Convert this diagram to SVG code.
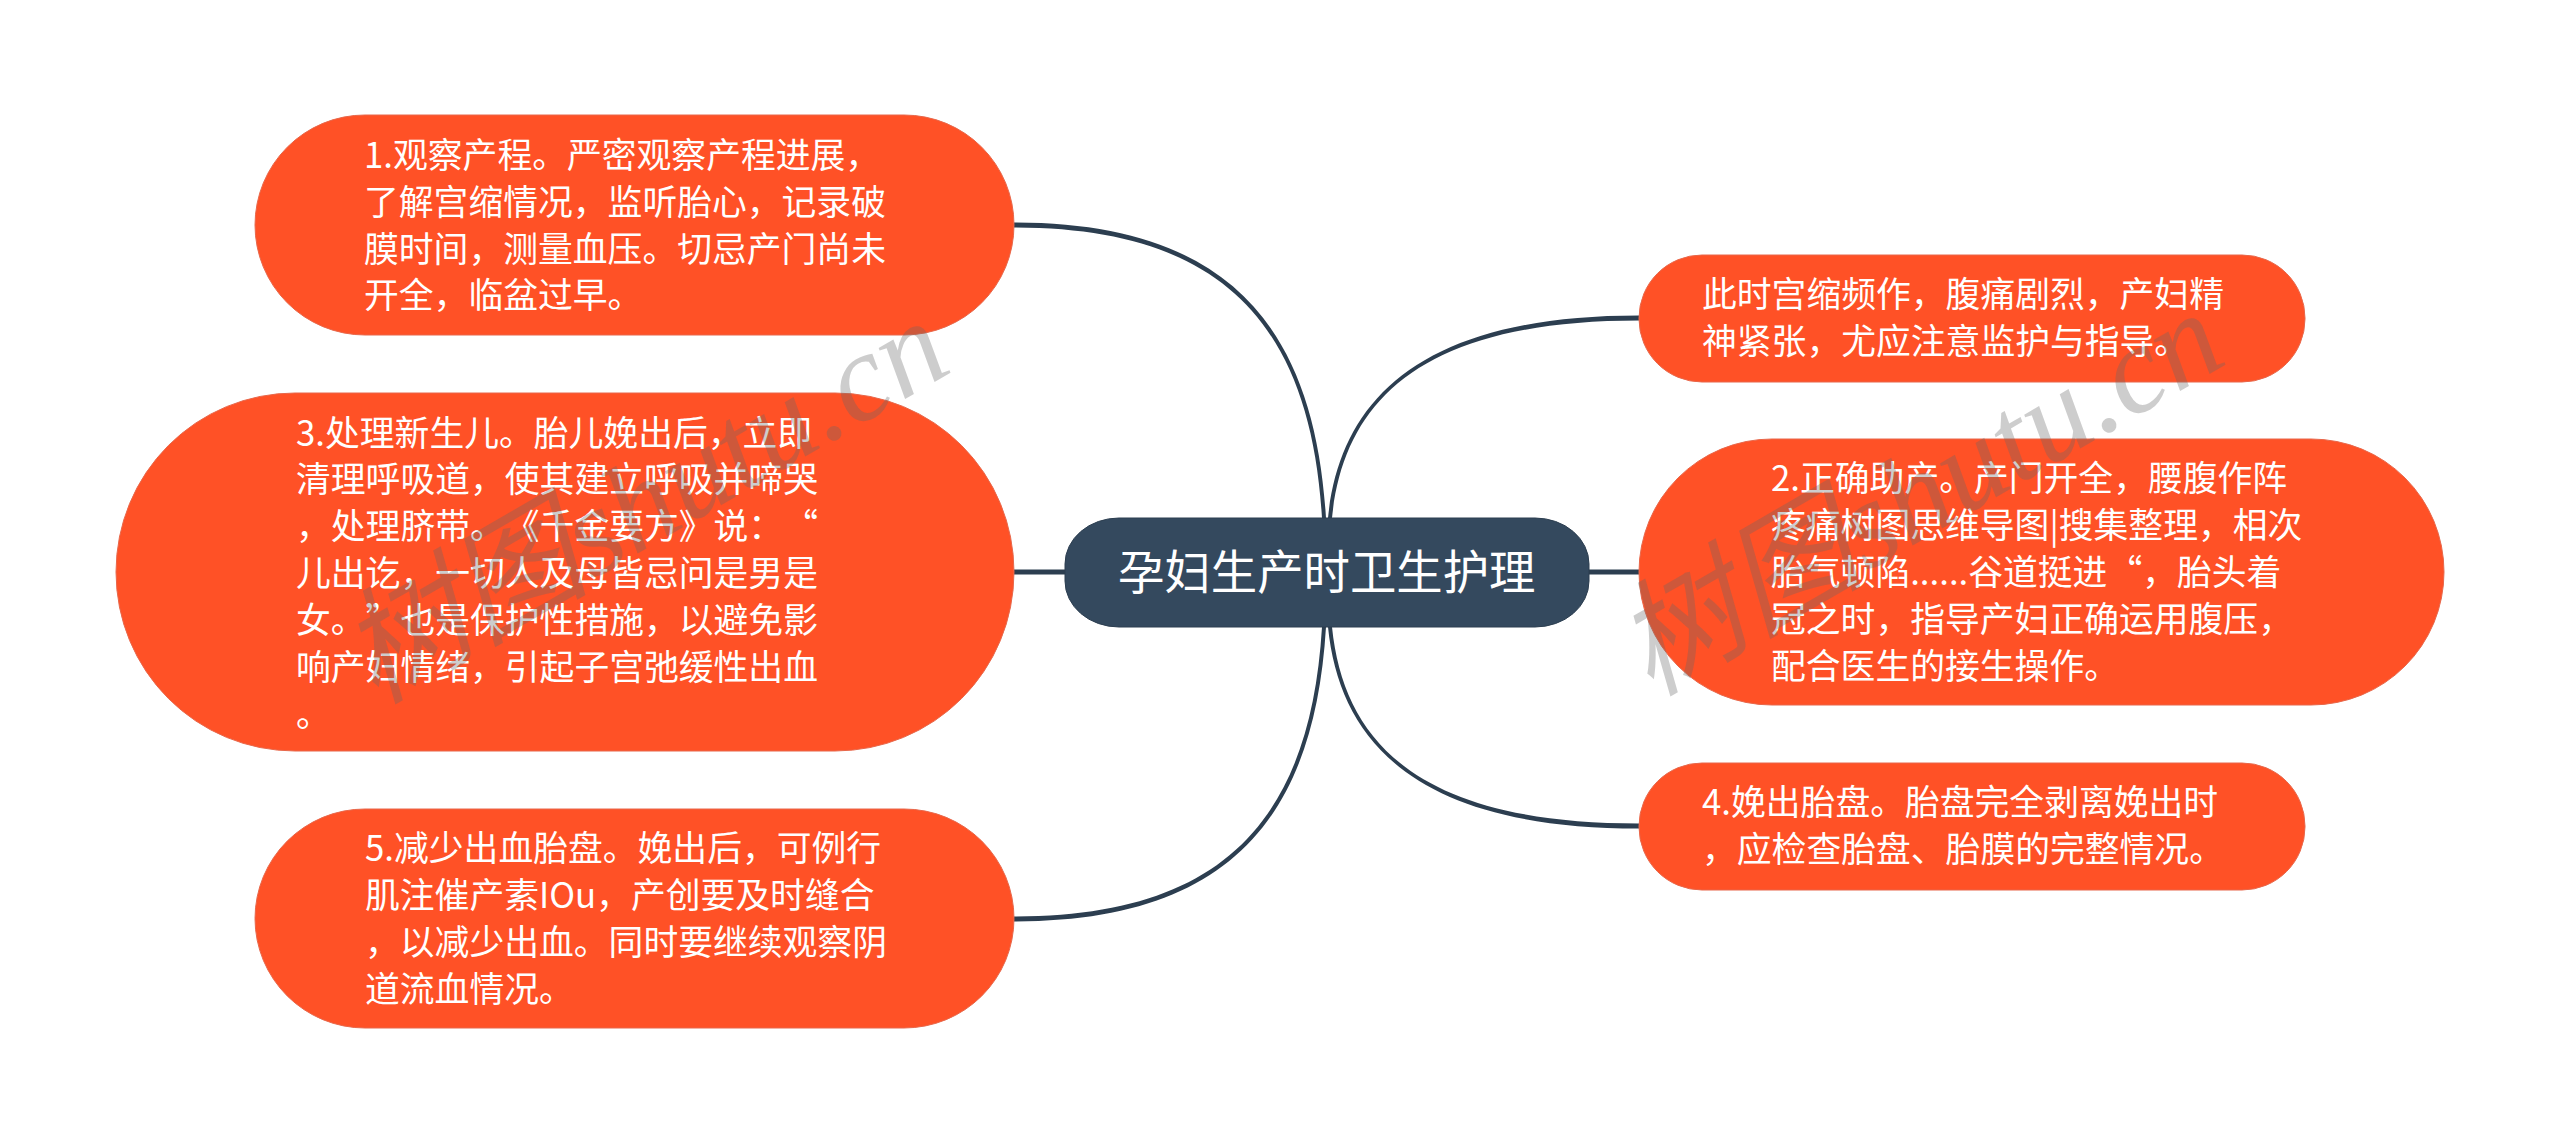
<svg xmlns="http://www.w3.org/2000/svg" width="2560" height="1145" viewBox="0 0 2560 1145">
<style>
text{font-family:"Noto Sans CJK SC","Noto Sans",sans-serif;text-spacing-trim:space-all}
.n{fill:#ff5126;stroke:#e8674a;stroke-width:1}
.c{fill:#34495e;stroke:#2c3e50;stroke-width:1}
.t{font-size:34.8px;fill:#fff}
.h{font-size:46.4px;fill:#fff}
.l{fill:#2c3e50}
.w{font-family:"Liberation Serif","Noto Sans CJK SC",serif;font-style:italic;font-size:125px;fill:#666;fill-opacity:.33}
</style>
<rect width="2560" height="1145" fill="#fff"/>
<g id="connectors">
<path class="l" d="M1326 518C1314 320 1222 222.500 1014 222.500V227.500C1218 227.500 1310 320 1322 518Z"/>
<path class="l" d="M1065 569.500H1014V574.500H1065Z"/>
<path class="l" d="M1326 627C1314 825 1222 921.500 1014 921.500V916.500C1218 916.500 1310 825 1322 627Z"/>
<path class="l" d="M1328 518C1340 400 1420 315.500 1639 315.500V320.500C1422 320.500 1344 400 1332 518Z"/>
<path class="l" d="M1589 569.500H1639V574.500H1589Z"/>
<path class="l" d="M1328 627C1340 745 1420 828.500 1639 828.500V823.500C1422 823.500 1344 745 1332 627Z"/>
</g>
<g id="node-center"><rect class="c" x="1065" y="518" width="524" height="109" rx="54" ry="46"/><text class="h" x="1118" y="589">孕妇生产时卫生护理</text></g>
<g id="node-1"><rect class="n" x="255" y="115" width="759" height="220" rx="110"/>
<text class="t"><tspan x="364" y="168">1.观察产程。严密观察产程进展，</tspan><tspan x="364" y="215">了解宫缩情况，监听胎心，记录破</tspan><tspan x="364" y="262">膜时间，测量血压。切忌产门尚未</tspan><tspan x="364" y="308">开全，临盆过早。</tspan></text></g>
<g id="node-3"><rect class="n" x="116" y="393" width="898" height="358" rx="179"/>
<text class="t"><tspan x="296" y="446">3.处理新生儿。胎儿娩出后，立即</tspan><tspan x="296" y="492">清理呼吸道，使其建立呼吸并啼哭</tspan><tspan x="296" y="539">，处理脐带。《千金要方》说：“</tspan><tspan x="296" y="586">儿出讫，一切人及母皆忌问是男是</tspan><tspan x="296" y="633">女。”也是保护性措施，以避免影</tspan><tspan x="296" y="680">响产妇情绪，引起子宫弛缓性出血</tspan><tspan x="296" y="727">。</tspan></text></g>
<g id="node-5"><rect class="n" x="255" y="809" width="759" height="219" rx="110"/>
<text class="t"><tspan x="365" y="861">5.减少出血胎盘。娩出后，可例行</tspan><tspan x="365" y="908">肌注催产素IOu，产创要及时缝合</tspan><tspan x="365" y="955">，以减少出血。同时要继续观察阴</tspan><tspan x="365" y="1002">道流血情况。</tspan></text></g>
<g id="node-r1"><rect class="n" x="1639" y="255" width="666" height="127" rx="63"/>
<text class="t"><tspan x="1702" y="307">此时宫缩频作，腹痛剧烈，产妇精</tspan><tspan x="1702" y="354">神紧张，尤应注意监护与指导。</tspan></text></g>
<g id="node-2"><rect class="n" x="1639" y="439" width="805" height="266" rx="133"/>
<text class="t"><tspan x="1771" y="491">2.正确助产。产门开全，腰腹作阵</tspan><tspan x="1771" y="538">疼痛树图思维导图|搜集整理，相次</tspan><tspan x="1771" y="585">胎气顿陷......谷道挺进“，胎头着</tspan><tspan x="1771" y="632">冠之时，指导产妇正确运用腹压，</tspan><tspan x="1771" y="679">配合医生的接生操作。</tspan></text></g>
<g id="node-4"><rect class="n" x="1639" y="763" width="666" height="127" rx="63"/>
<text class="t"><tspan x="1702" y="815">4.娩出胎盘。胎盘完全剥离娩出时</tspan><tspan x="1702" y="862">，应检查胎盘、胎膜的完整情况。</tspan></text></g>
<text class="w" transform="translate(375 705) rotate(-30)">树图shutu.cn</text>
<text class="w" transform="translate(1650 697) rotate(-30)">树图shutu.cn</text>
</svg>
